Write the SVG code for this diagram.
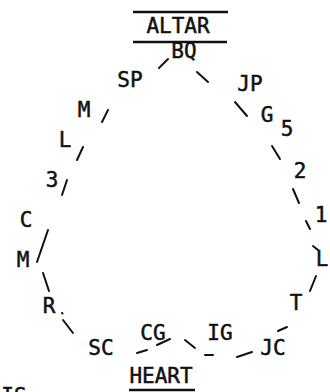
<svg xmlns="http://www.w3.org/2000/svg" width="330" height="392" viewBox="0 0 330 392">
<style>
text{font-family:"DejaVu Sans Mono","Liberation Mono",monospace;font-size:21px;fill:#111;stroke:#111;stroke-width:0.5;text-anchor:middle}
.c line{stroke:#111;stroke-width:2;stroke-linecap:round}
.r{stroke:#111;stroke-width:2.5}
</style>
<rect width="330" height="392" fill="#fff"/>
<g id="altar">
<line class="r" x1="133" y1="12" x2="228" y2="12"/>
<text x="178" y="33">ALTAR</text>
<line class="r" x1="133" y1="42" x2="227" y2="42"/>
</g>
<g id="bq"><text x="184" y="58">BQ</text></g>
<g id="sp"><text x="130" y="87">SP</text></g>
<g id="jp"><text x="250" y="91">JP</text></g>
<g id="g"><text x="267" y="122">G</text></g>
<g id="n5"><text x="287" y="136">5</text></g>
<g id="n2"><text x="300" y="178">2</text></g>
<g id="n1"><text x="321" y="222">1</text></g>
<g id="lr"><text x="322" y="266">L</text></g>
<g id="t"><text x="296" y="310">T</text></g>
<g id="jc"><text x="273" y="355">JC</text></g>
<g id="ig"><text x="220" y="340">IG</text></g>
<g id="cg"><text x="153" y="340">CG</text></g>
<g id="sc"><text x="101" y="355">SC</text></g>
<g id="r"><text x="49" y="313">R</text></g>
<g id="m2"><text x="23" y="267">M</text></g>
<g id="c"><text x="26" y="227">C</text></g>
<g id="n3"><text x="52" y="187">3</text></g>
<g id="l1"><text x="65" y="147">L</text></g>
<g id="m1"><text x="84" y="117">M</text></g>
<g id="heart">
<text x="161" y="383">HEART</text>
<line class="r" x1="129" y1="390" x2="195" y2="390"/>
</g>
<g id="is"><text x="14" y="403">IS</text></g>
<g class="c" id="connectors">
<line x1="159" y1="68" x2="168" y2="59"/>
<line x1="197" y1="72" x2="208" y2="82"/>
<line x1="235" y1="102" x2="247" y2="116"/>
<line x1="272" y1="146" x2="280" y2="159"/>
<line x1="293" y1="189" x2="299" y2="203"/>
<line x1="306" y1="221" x2="310" y2="229"/>
<line x1="313" y1="246" x2="318" y2="250"/>
<line x1="316" y1="276" x2="310" y2="291"/>
<line x1="278" y1="331" x2="287" y2="327"/>
<line x1="237" y1="357" x2="252" y2="352"/>
<line x1="205" y1="355" x2="213" y2="355"/>
<line x1="185" y1="340" x2="195" y2="348"/>
<line x1="157" y1="345" x2="170" y2="339"/>
<line x1="137" y1="353" x2="147" y2="350"/>
<line x1="63" y1="320" x2="73" y2="333"/>
<line x1="62" y1="313" x2="62.5" y2="313.5"/>
<line x1="43" y1="273" x2="49" y2="291"/>
<line x1="48" y1="230" x2="37" y2="262"/>
<line x1="67" y1="180" x2="62" y2="195"/>
<line x1="83" y1="147" x2="77" y2="160"/>
<line x1="108" y1="110" x2="102" y2="122"/>
</g>
</svg>
